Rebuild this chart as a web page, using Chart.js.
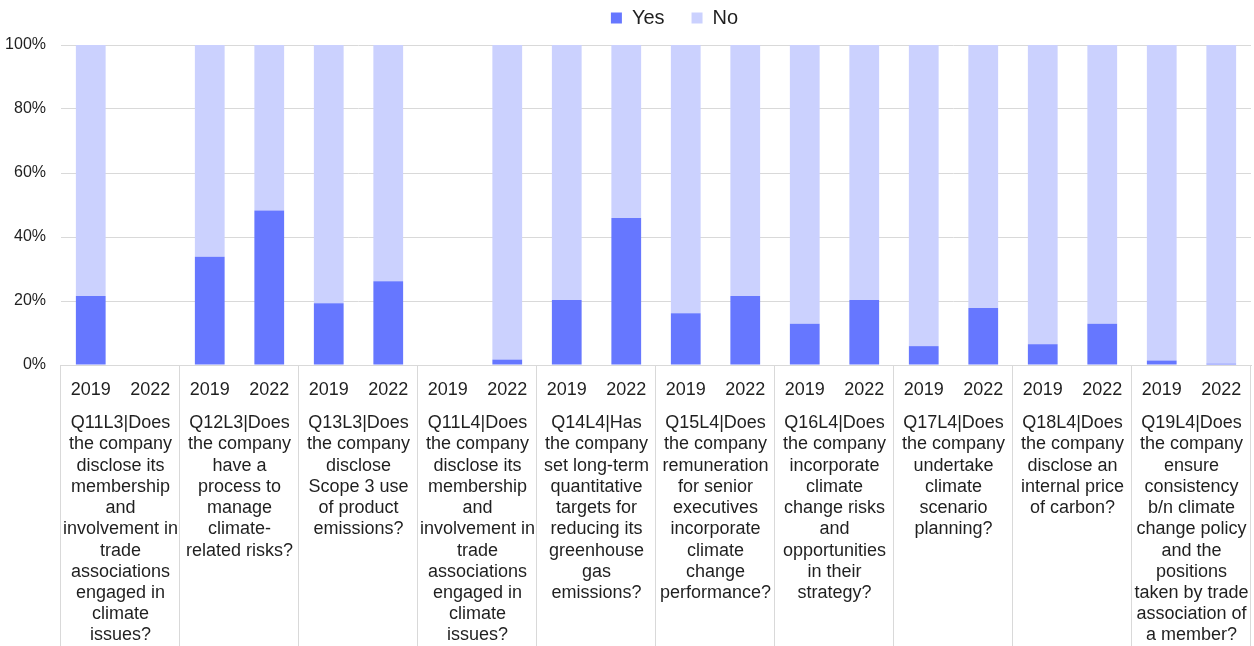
<!DOCTYPE html>
<html>
<head>
<meta charset="utf-8">
<script src="https://cdn.jsdelivr.net/npm/chart.js@4/dist/chart.umd.min.js"></script>
<style>
  html, body { margin: 0; padding: 0; background: #fff; }
  #wrap { width: 1254px; height: 646px; }
</style>
</head>
<body>
<div id="wrap"><canvas id="chart"></canvas></div>
<script>
// Two bars (2019, 2022) per question
const years = ["2019", "2022"]

const questions = [
  ["Q11L3|Does", "the company", "disclose its", "membership", "and", "involvement in", "trade", "associations", "engaged in", "climate", "issues?"],
  ["Q12L3|Does", "the company", "have a", "process to", "manage", "climate-", "related risks?"],
  ["Q13L3|Does", "the company", "disclose", "Scope 3 use", "of product", "emissions?"],
  ["Q11L4|Does", "the company", "disclose its", "membership", "and", "involvement in", "trade", "associations", "engaged in", "climate", "issues?"],
  ["Q14L4|Has", "the company", "set long-term", "quantitative", "targets for", "reducing its", "greenhouse", "gas", "emissions?"],
  ["Q15L4|Does", "the company", "remuneration", "for senior", "executives", "incorporate", "climate", "change", "performance?"],
  ["Q16L4|Does", "the company", "incorporate", "climate", "change risks", "and", "opportunities", "in their", "strategy?"],
  ["Q17L4|Does", "the company", "undertake", "climate", "scenario", "planning?"],
  ["Q18L4|Does", "the company", "disclose an", "internal price", "of carbon?"],
  ["Q19L4|Does", "the company", "ensure", "consistency", "b/n climate", "change policy", "and the", "positions", "taken by trade", "association of", "a member?"],
]

// share of companies, in %, ordered Q11L3 2019, Q11L3 2022, Q12L3 2019, ...
const yesValues = [21.6, 0, 33.8, 48.3, 19.3, 26.2, 0, 1.7, 20.3, 45.9,
                   16.2, 21.6, 12.9, 20.3, 5.9, 17.8, 6.5, 12.9, 1.4, 0.4]
const noValues  = [78.4, 0, 66.2, 51.7, 80.7, 73.8, 0, 98.3, 79.7, 54.1,
                   83.8, 78.4, 87.1, 79.7, 94.1, 82.2, 93.5, 87.1, 98.6, 99.6]

const yTicks = [0, 20, 40, 60, 80, 100]

const yearLabels = questions.flatMap(() => years)
const TEXT = "#1f1f1f"
const LINE = "#d9d9d9"
const NONE = "rgba(0,0,0,0)"
const FONT = "'Liberation Sans', Arial, sans-serif"

// legend sits a bit right of centre and leaves a gap above the plot
const legendTweak = {
  id: "legendTweak",
  beforeLayout(chart) {
    const legend = chart.legend
    if (!legend || legend._tweaked) return
    const fit = legend.fit
    legend.fit = function () { fit.call(this); this.height += 7 }
    legend._tweaked = true
  },
  afterLayout(chart) {
    chart.legend.left += 49
    chart.legend.right += 49
  },
}

// vertical separators between question groups, from the axis down to the bottom
const groupLines = {
  id: "groupLines",
  afterDraw(chart) {
    const x = chart.scales.x
    const ctx = chart.ctx
    const step = x.width / questions.length
    ctx.save()
    ctx.strokeStyle = LINE
    ctx.lineWidth = 1
    ctx.beginPath()
    for (let i = 0; i <= questions.length; i++) {
      const px = Math.round(x.left + i * step) - 0.5
      ctx.moveTo(px, x.top)
      ctx.lineTo(px, chart.height)
    }
    ctx.stroke()
    ctx.restore()
  },
}

new Chart(document.getElementById("chart"), {
  type: "bar",
  data: {
    labels: yearLabels,
    datasets: [
      { label: "Yes", data: yesValues, backgroundColor: "#6677ff", barPercentage: 0.5, categoryPercentage: 1 },
      { label: "No",  data: noValues,  backgroundColor: "#cbd1fe", barPercentage: 0.5, categoryPercentage: 1 },
    ],
  },
  plugins: [legendTweak, groupLines],
  options: {
    responsive: true,
    maintainAspectRatio: false,
    animation: false,
    layout: { padding: { top: -19, right: 3, bottom: 0, left: 0 } },
    scales: {
      x: {
        stacked: true,
        border: { color: LINE },
        grid: { offset: true, drawOnChartArea: false, tickLength: 300, color: NONE },
        ticks: {
          autoSkip: false, maxRotation: 0, padding: -285.5,
          color: TEXT, font: { family: FONT, size: 18, lineHeight: 1.18 },
        },
        afterFit: (s) => { s.height = 34 },
      },
      x2: {
        type: "category",
        position: "bottom",
        labels: questions,
        offset: true,
        border: { display: false },
        grid: { offset: true, drawOnChartArea: false, tickLength: 300, color: NONE },
        ticks: {
          autoSkip: false, maxRotation: 0, padding: -286.5,
          color: TEXT, font: { family: FONT, size: 18, lineHeight: 1.18 },
        },
        afterFit: (s) => { s.height = 247 },
      },
      y: {
        stacked: true,
        min: 0,
        max: 100,
        border: { display: false },
        grid: { color: LINE, drawTicks: false },
        afterBuildTicks: (s) => { s.ticks = yTicks.map(v => ({ value: v })) },
        afterFit: (s) => { s.width = 61 },
        ticks: {
          padding: 15,
          color: TEXT,
          font: { family: FONT, size: 16 },
          callback: (v) => v + "%",
        },
      },
    },
    plugins: {
      legend: {
        position: "top",
        labels: { boxWidth: 11, boxHeight: 11, padding: 27, color: TEXT, font: { family: FONT, size: 20 } },
      },
      tooltip: { enabled: false },
    },
  },
})
</script>
</body>
</html>
